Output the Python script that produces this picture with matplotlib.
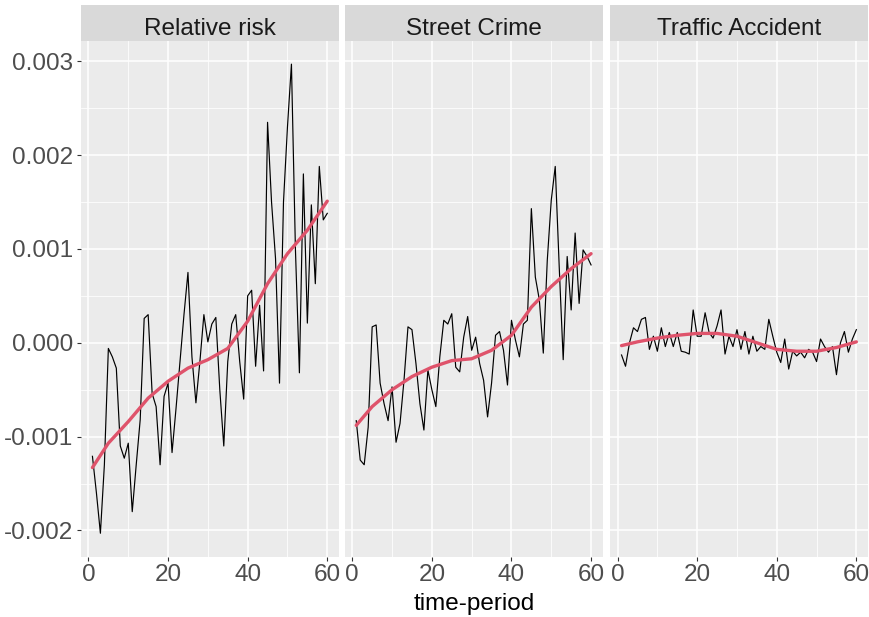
import numpy as np
import matplotlib
matplotlib.use("Agg")
import matplotlib.pyplot as plt

plt.rcParams['font.family'] = ['Liberation Sans', 'DejaVu Sans']

# time index
period = list(range(1, 61))

# black series
relative_risk = [
    -0.00121, -0.0016, -0.00203, -0.0013, -0.00006, -0.00015, -0.00027, -0.0011, -0.00123, -0.00107,
    -0.0018, -0.0013, -0.00082, 0.00026, 0.0003, -0.00054, -0.00068, -0.0013, -0.00057, -0.00043,
    -0.00117, -0.0007, -0.0002, 0.0003, 0.00075, -0.00015, -0.00064, -0.0002, 0.0003, 0.00001,
    0.0002, 0.00027, -0.0005, -0.0011, -0.0002, 0.0002, 0.0003, -0.0002, -0.0006, 0.0005,
    0.00056, -0.00025, 0.0004, -0.0003, 0.00235, 0.0015, 0.0009, -0.00043, 0.0015, 0.0023,
    0.00297, 0.001, -0.00032, 0.0018, 0.00021, 0.00147, 0.00063, 0.00188, 0.00131, 0.00138,
]
street_crime = [
    -0.00083, -0.00125, -0.0013, -0.0009, 0.00017, 0.00019, -0.00043, -0.00065, -0.00083, -0.00047,
    -0.00106, -0.00086, -0.0004, 0.00017, 0.00014, -0.00022, -0.00065, -0.00093, -0.00029, -0.0005,
    -0.00068, -0.00015, 0.00024, 0.0002, 0.00031, -0.00026, -0.00031, 0.00006, 0.00028, -0.00008,
    0.00006, -0.00022, -0.0004, -0.00079, -0.00043, 0.00008, 0.00012, -0.00008, -0.00045, 0.00024,
    0.00003, -0.00015, 0.0002, 0.00024, 0.00143, 0.0007, 0.00046, -0.00011, 0.00088, 0.00152,
    0.00188, 0.00081, -0.00018, 0.00092, 0.00035, 0.00117, 0.00042, 0.00099, 0.00092, 0.00083,
]
traffic_accident = [
    -0.00013, -0.00025, 0.0, 0.00016, 0.00012, 0.00025, 0.00027, -0.00007, 0.00007, -0.00009,
    0.00016, -0.00004, 0.00011, -0.00004, 0.00011, -0.00009, -0.0001, -0.00012, 0.00035, 0.00007,
    0.00007, 0.00032, 0.00011, 0.00005, 0.00018, 0.00035, -0.00012, 0.00007, -0.00004, 0.00014,
    -0.00007, 0.00012, -0.00012, 0.00007, -0.00009, -0.00004, -0.00007, 0.00025, 0.00007, -0.0001,
    -0.00021, 0.00004, -0.00028, -0.00009, -0.00014, -0.0001, -0.00016, -0.00007, -0.0001, -0.0002,
    0.00004, -0.00004, -0.0001, -0.00004, -0.00034, 0.0, 0.00012, -0.0001, 0.00004, 0.00014,
]

# smooth (red) curves, read at every 5th period
smooth_period = [1, 5, 10, 15, 20, 25, 30, 35, 40, 45, 50, 55, 60]
smooth_rr = [-0.00133, -0.00107, -0.00084, -0.00059, -0.00041, -0.00027, -0.00018,
             -0.00006, 0.00023, 0.00063, 0.00095, 0.0012, 0.00151]
smooth_sc = [-0.00088, -0.00068, -0.0005, -0.00036, -0.00026, -0.00019, -0.00017,
             -0.00008, 0.00008, 0.00038, 0.0006, 0.00079, 0.00095]
smooth_ta = [-0.00003, 0.00001, 0.00005, 0.00008, 0.0001, 0.0001, 0.00007,
             0.0, -0.00007, -0.00009, -0.00009, -0.00005, 0.00001]

titles = ['Relative risk', 'Street Crime', 'Traffic Accident']
series = [relative_risk, street_crime, traffic_accident]
smooths = [smooth_rr, smooth_sc, smooth_ta]

x_ticks = [0, 20, 40, 60]
y_ticks = [-0.002, -0.001, 0.0, 0.001, 0.002, 0.003]
y_labels = ['-0.002', '-0.001', '0.000', '0.001', '0.002', '0.003']

W, H = 869, 617
fig = plt.figure(figsize=(W / 100, H / 100), dpi=100)

allv = np.concatenate([np.array(s) for s in series])
ypad = (allv.max() - allv.min()) * 0.05
ylim = (allv.min() - ypad, allv.max() + ypad)
xpad = (max(period) - min(period)) * 0.05
xlim = (min(period) - xpad, max(period) + xpad)

lefts = [80.7, 344.5, 609.8]
pw = 258.3
pbot, ptop = 556.7, 40.7
stop = 5.0
fs = 17.5

for i in range(3):
    ax = fig.add_axes([lefts[i] / W, 1 - pbot / H, pw / W, (pbot - ptop) / H])
    ax.set_facecolor('#EBEBEB')
    for s in ax.spines.values():
        s.set_visible(False)
    ax.set_xlim(*xlim)
    ax.set_ylim(*ylim)
    ax.set_xticks(x_ticks)
    ax.set_xticks([10, 30, 50], minor=True)
    ax.set_yticks(y_ticks)
    ax.set_yticks([-0.0015, -0.0005, 0.0005, 0.0015, 0.0025], minor=True)
    ax.grid(True, which='major', color='white', lw=1.1)
    ax.grid(True, which='minor', color='white', lw=0.55)
    ax.set_axisbelow(True)
    ax.tick_params(which='minor', length=0)
    ax.tick_params(which='major', length=2.75, width=0.8, color='#333333',
                   labelsize=fs, labelcolor='#4D4D4D', pad=2.5)
    if i == 0:
        ax.set_yticklabels(y_labels)
    else:
        ax.tick_params(axis='y', which='major', left=False, labelleft=False)

    ax.plot(period, series[i], color='black', lw=0.85)
    ax.plot(smooth_period, smooths[i], color='#DF536B', lw=2.4,
            solid_capstyle='round', solid_joinstyle='round')

    sax = fig.add_axes([lefts[i] / W, 1 - ptop / H, pw / W, (ptop - stop) / H])
    sax.set_facecolor('#D9D9D9')
    sax.set_xticks([])
    sax.set_yticks([])
    for s in sax.spines.values():
        s.set_visible(False)
    sax.text(0.5, 0.16, titles[i], ha='center', va='baseline', fontsize=fs,
             color='#1A1A1A', transform=sax.transAxes)

fig.text((lefts[0] + lefts[2] + pw) / 2 / W, 1 - 604 / H, 'time-period',
         ha='center', va='center', fontsize=fs, color='black')

fig.savefig('out.png', dpi=100)
